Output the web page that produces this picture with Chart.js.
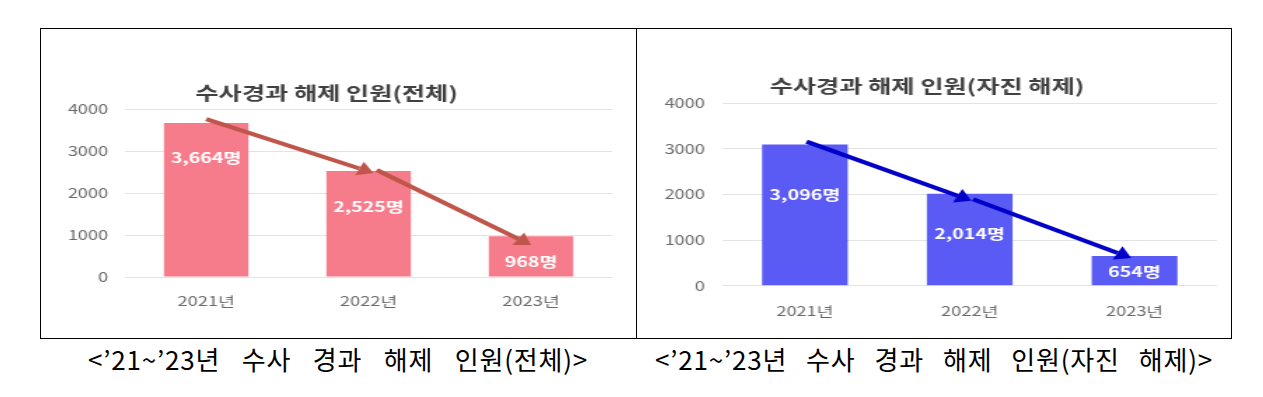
<!DOCTYPE html>
<html><head><meta charset="utf-8">
<script src="https://cdn.jsdelivr.net/npm/chart.js@4.4.1/dist/chart.umd.min.js"></script>
<style>
html,body{margin:0;padding:0;background:#fff;}
body{width:1263px;height:397px;position:relative;overflow:hidden;font-family:"Noto Sans CJK KR","Noto Sans",sans-serif;}
#frame{position:absolute;left:40px;top:28px;width:1192px;height:311px;border:1px solid #000;box-sizing:border-box;}
#divider{position:absolute;left:636px;top:28px;width:1px;height:311px;background:#000;}
canvas{position:absolute;}
.cap{position:absolute;top:342px;font-size:26px;line-height:34px;letter-spacing:0.8px;color:#000;white-space:pre;}
</style></head>
<body>
<div id="frame"></div><div id="divider"></div>
<canvas id="c1" width="425" height="309" style="left:41px;top:29px;width:595px;height:309px;"></canvas>
<canvas id="c2" width="424" height="309" style="left:637px;top:29px;width:594px;height:309px;"></canvas>
<div class="cap" id="cap1"></div>
<div class="cap" id="cap2"></div>
<script>
const categories = ['2021년', '2022년', '2023년'];
const totalValues = [3664, 2525, 968];
const voluntaryValues = [3096, 2014, 654];
const totalLabels = ['3,664명', '2,525명', '968명'];
const voluntaryLabels = ['3,096명', '2,014명', '654명'];
const yTicks = [0, 1000, 2000, 3000, 4000];
const titles = ['수사경과 해제 인원(전체)', '수사경과 해제 인원(자진 해제)'];
const captions = ['<’21~’23년 수사 경과 해제 인원(전체)>', '<’21~’23년 수사 경과 해제 인원(자진 해제)>'];
// trend arrows as [category index, value] pairs
const totalArrows = [[[0.0, 3760], [1.03, 2476]], [[1.05, 2548], [2.0, 762]]];
const voluntaryArrows = [[[0.01, 3160], [1.01, 1864]], [[1.02, 1895], [1.98, 607]]];

const FONT = '"Noto Sans CJK KR", "Noto Sans", sans-serif';

function drawArrow(ctx, x1, y1, x2, y2, color, lw, hl, hw) {
  const a = Math.atan2(y2 - y1, x2 - x1);
  const bx = x2 - hl * Math.cos(a), by = y2 - hl * Math.sin(a);
  ctx.strokeStyle = color; ctx.lineWidth = lw; ctx.lineCap = 'butt';
  ctx.beginPath(); ctx.moveTo(x1, y1); ctx.lineTo(bx, by); ctx.stroke();
  ctx.fillStyle = color;
  ctx.beginPath(); ctx.moveTo(x2, y2);
  ctx.lineTo(bx + hw * Math.sin(a), by - hw * Math.cos(a));
  ctx.lineTo(bx - hw * Math.sin(a), by + hw * Math.cos(a));
  ctx.closePath(); ctx.fill();
}

const overlay = {
  id: 'overlay',
  afterDatasetsDraw(chart, args, opts) {
    const ctx = chart.ctx;
    const meta = chart.getDatasetMeta(0);
    const xs = chart.scales.x, ys = chart.scales.y;
    ctx.save();
    ctx.font = 'bold 14px ' + FONT;
    ctx.fillStyle = '#ffffff'; ctx.textAlign = 'center'; ctx.textBaseline = 'middle';
    meta.data.forEach((bar, i) => ctx.fillText(opts.labels[i], bar.x, bar.y + opts.offsets[i]));
    opts.arrows.forEach(seg => {
      drawArrow(ctx, xs.getPixelForValue(seg[0][0]), ys.getPixelForValue(seg[0][1]),
        xs.getPixelForValue(seg[1][0]), ys.getPixelForValue(seg[1][1]), opts.color, 4, 11, 7.5);
    });
    ctx.restore();
  }
};

function makeChart(id, values, color, labels, offsets, arrows, arrowColor, title, L) {
  return new Chart(document.getElementById(id), {
    type: 'bar',
    data: { labels: categories, datasets: [{ data: values, backgroundColor: color, barPercentage: 0.52, categoryPercentage: 1 }] },
    options: {
      responsive: false, animation: false, devicePixelRatio: 1,
      layout: { padding: { left: 0, right: L.padRight, top: 0, bottom: 0 } },
      plugins: {
        legend: { display: false }, tooltip: { enabled: false },
        title: { display: true, text: title, color: '#404040', font: { family: FONT, size: 18, weight: 'bold' }, padding: { top: L.titleTop, bottom: L.titleBottom } },
        overlay: { labels: labels, offsets: offsets, arrows: arrows, color: arrowColor }
      },
      scales: {
        x: { grid: { display: false }, border: { display: false },
          ticks: { color: '#6a6a6a', font: { family: FONT, size: 13 }, padding: L.xPad },
          afterFit(s) { s.height = L.xH; } },
        y: { min: 0, max: 4000,
          afterBuildTicks(s) { s.ticks = yTicks.map(v => ({ value: v })); },
          grid: { color: '#e3e3e3', drawTicks: false, lineWidth: 1 }, border: { display: false },
          ticks: { color: '#6a6a6a', font: { family: FONT, size: 13 }, padding: L.yPad, callback: v => String(v) },
          afterFit(s) { s.width = L.yW; } }
      }
    },
    plugins: [overlay]
  });
}

makeChart('c1', totalValues, '#f77c8b', totalLabels, [35, 36, 25], totalArrows, '#c0564b', titles[0],
  { padRight: 17, titleTop: 53.2, titleBottom: 5.2, xPad: 8.5, xH: 61, yPad: 12, yW: 60 });
makeChart('c2', voluntaryValues, '#5a5af5', voluntaryLabels, [50, 40, 16], voluntaryArrows, '#0000c8', titles[1],
  { padRight: 10, titleTop: 45.9, titleBottom: 6.8, xPad: 10, xH: 52.3, yPad: 12.5, yW: 61 });

function fitCaption(id, text, left, right) {
  const el = document.getElementById(id);
  el.textContent = text; el.style.left = left + 'px';
  const w = el.getBoundingClientRect().width;
  const n = (text.match(/ /g) || []).length;
  el.style.wordSpacing = (((right - left) - w) / n) + 'px';
}
fitCaption('cap1', captions[0], 88, 588);
fitCaption('cap2', captions[1], 655, 1213);
</script>
</body></html>
